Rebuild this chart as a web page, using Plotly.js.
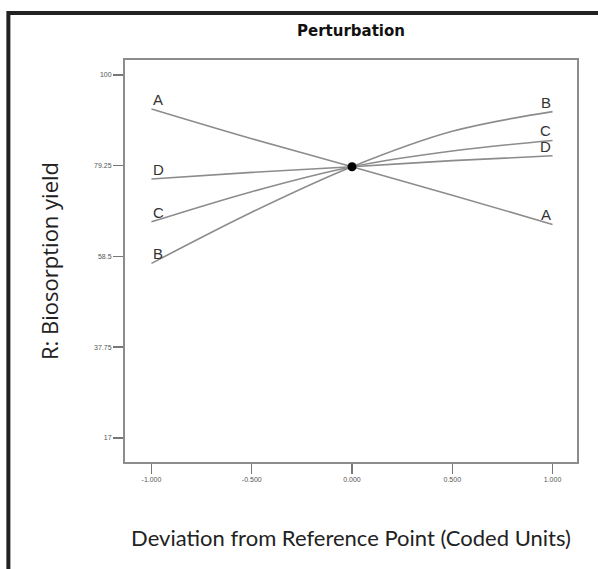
<!DOCTYPE html>
<html>
<head>
<meta charset="utf-8">
<script src="https://cdn.plot.ly/plotly-3.0.1.min.js"></script>
<style>html,body{margin:0;padding:0;background:#fff;}#chart{width:598px;height:569px;}</style>
</head>
<body>
<div id="chart"></div>
<script>
// Coded deviation from reference point
const deviation = [-1, -0.5, 0, 0.5, 1];
// Response R (Biosorption yield) per factor
const factorA = [92.2, 85.4, 79.0, 72.5, 65.8];
const factorB = [56.9, 68.6, 79.0, 87.1, 91.6];
const factorC = [66.4, 73.3, 79.0, 82.6, 85.0];
const factorD = [76.2, 77.7, 79.0, 80.4, 81.5];
const factorNames = ["A", "B", "C", "D"];
const refPointX = [0];
const refPointY = [79.0];
const xTickVals = [-1, -0.5, 0, 0.5, 1];
const xTickText = ["-1.000", "-0.500", "0.000", "0.500", "1.000"];
const yTickVals = [100, 79.25, 58.5, 37.75, 17];
const yTickText = ["100", "79.25", "58.5", "37.75", "17"];

const series = [factorA, factorB, factorC, factorD];
const lineColor = "#8c8c8c";

const traces = series.map((ys, i) => ({
  x: deviation, y: ys, type: "scatter", mode: "lines",
  line: {color: lineColor, width: 1.6, shape: "spline"},
  name: factorNames[i], hoverinfo: "x+y+name"
}));
traces.push({
  x: refPointX, y: refPointY, type: "scatter", mode: "markers",
  marker: {color: "#000", size: 9}, name: "Reference", hoverinfo: "x+y"
});

const labelFont = {family: "Liberation Sans, Arial, sans-serif", size: 15, color: "#333"};
const annotations = [];
series.forEach((ys, i) => {
  annotations.push({x: deviation[0], y: ys[0], xref: "x", yref: "y", text: factorNames[i],
    showarrow: false, xanchor: "left", yanchor: "bottom", yshift: -1, font: labelFont});
  const n = ys.length - 1;
  annotations.push({x: deviation[n], y: ys[n], xref: "x", yref: "y", text: factorNames[i],
    showarrow: false, xanchor: "right", yanchor: "bottom", yshift: -1, font: labelFont});
});

const layout = {
  width: 598, height: 569,
  margin: {l: 125, r: 21, t: 60, b: 107},
  paper_bgcolor: "#fff", plot_bgcolor: "#fff",
  showlegend: false,
  title: {text: "<b>Perturbation</b>", x: 0.5, xref: "paper", y: 1, yref: "container", yanchor: "top", pad: {t: 25},
    font: {family: "DejaVu Sans, sans-serif", size: 15, color: "#111"}},
  xaxis: {
    range: [-1.132, 1.122], tickvals: xTickVals, ticktext: xTickText,
    ticks: "outside", ticklen: 10, tickwidth: 1.5, tickcolor: "#777",
    showline: true, mirror: true, linecolor: "#8c8c8c", linewidth: 2,
    showgrid: false, zeroline: false,
    tickfont: {family: "Liberation Sans, Arial, sans-serif", size: 7, color: "#555"},
    title: {text: "Deviation from Reference Point (Coded Units)", standoff: 48,
      font: {family: "Lato, Noto Sans, sans-serif", size: 22, color: "#222"}},
    automargin: false
  },
  yaxis: {
    range: [11.5, 103.4], tickvals: yTickVals, ticktext: yTickText,
    ticks: "outside", ticklen: 10, tickwidth: 1.5, tickcolor: "#777",
    showline: true, mirror: true, linecolor: "#8c8c8c", linewidth: 2,
    showgrid: false, zeroline: false,
    tickfont: {family: "Liberation Sans, Arial, sans-serif", size: 7, color: "#555"},
    title: {text: "R: Biosorption yield", standoff: 29,
      font: {family: "Open Sans, sans-serif", size: 22, color: "#222"}},
    automargin: false
  },
  annotations: annotations,
  shapes: [{type: "rect", xref: "paper", yref: "paper",
    x0: -0.258, x1: 1.25, y0: -0.32, y1: 1.117,
    line: {color: "#222", width: 4}, fillcolor: "rgba(0,0,0,0)", layer: "below"}]
};

Plotly.newPlot("chart", traces, layout, {displayModeBar: false, staticPlot: true});
</script>
</body>
</html>
